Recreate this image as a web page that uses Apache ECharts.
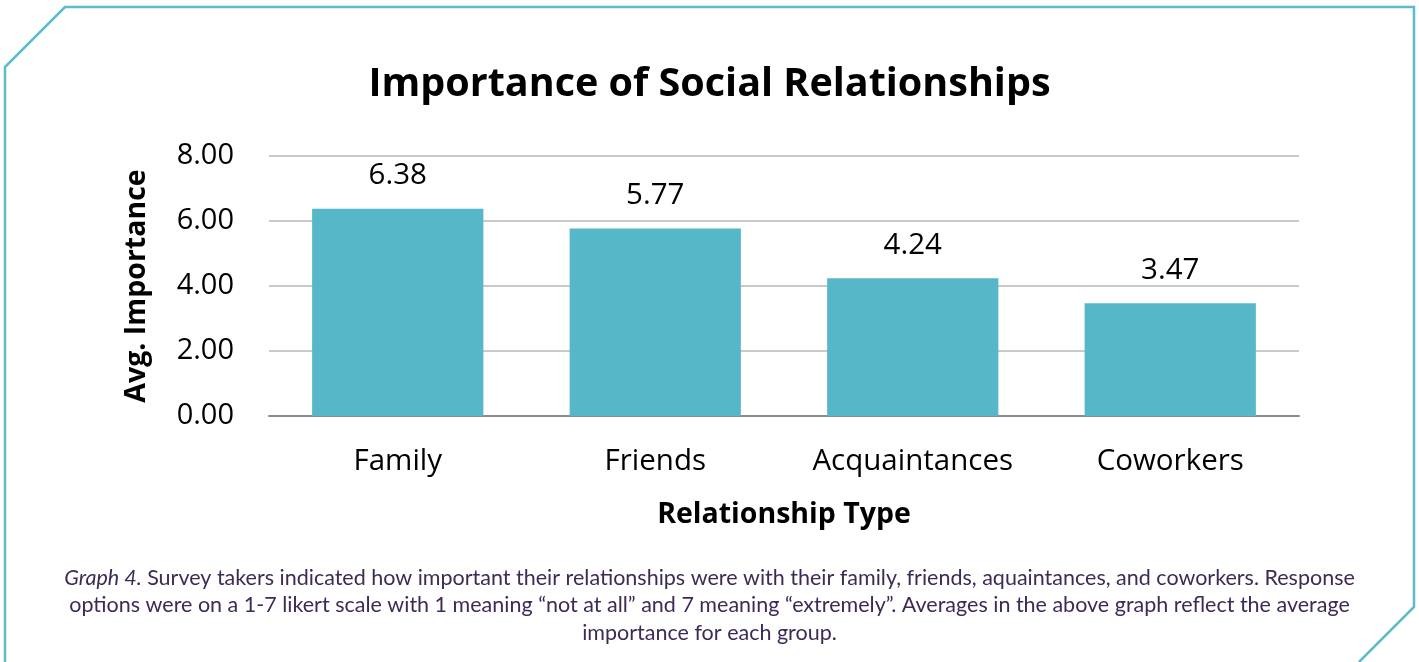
<!DOCTYPE html>
<html>
<head>
<meta charset="utf-8">
<script src="https://cdn.jsdelivr.net/npm/echarts@6/dist/echarts.min.js"></script>
<style>
  html, body { margin: 0; padding: 0; background: #ffffff; }
  #chart { width: 1419px; height: 662px; }
</style>
</head>
<body>
<div id="chart"></div>
<script>
// Relationship categories and their average importance ratings (1-7 scale)
const categories = ['Family', 'Friends', 'Acquaintances', 'Coworkers'];
const avgImportance = [6.38, 5.77, 4.24, 3.47];
const yTicks = [0, 2, 4, 6, 8];

const titleText = 'Importance of Social Relationships';
const yAxisTitle = 'Avg. Importance';
const xAxisTitle = 'Relationship Type';
const captionLines = [
  ['Graph 4.', ' Survey takers indicated how important their relationships were with their family, friends, aquaintances, and coworkers. Response'],
  ['', 'options were on a 1-7 likert scale with 1 meaning \u201cnot at all\u201d and 7 meaning \u201cextremely\u201d. Averages in the above graph reflect the average'],
  ['', 'importance for each group.']
];

const chart = echarts.init(document.getElementById('chart'), null, { renderer: 'canvas' });

const frameColor = '#5bbccc';
const captionColor = '#3e2a55';

const captionGraphics = captionLines.map(function (parts, i) {
  const txt = (parts[0] ? '{i|' + parts[0] + '}' : '') + '{n|' + parts[1] + '}';
  return {
    type: 'text',
    left: 'center',
    top: 567 + i * 27.5,
    style: {
      text: txt,
      rich: {
        i: { fontFamily: 'Lato', fontStyle: 'italic', fontSize: 21.5, fill: captionColor },
        n: { fontFamily: 'Lato', fontSize: 21.5, fill: captionColor }
      }
    }
  };
});

const option = {
  backgroundColor: '#ffffff',
  animation: false,
  title: {
    text: titleText,
    left: 'center',
    top: 60,
    textStyle: { fontFamily: 'Open Sans', fontWeight: 'bold', fontSize: 39.5, color: '#000000' }
  },
  grid: { left: 269, right: 120, top: 156, bottom: 246 },
  xAxis: {
    type: 'category',
    data: categories,
    name: xAxisTitle,
    nameLocation: 'middle',
    nameGap: 84,
    nameTextStyle: { fontFamily: 'Open Sans', fontWeight: 'bold', fontSize: 28.5, color: '#000000' },
    axisLine: { show: true, lineStyle: { color: '#8c8c8c', width: 2 } },
    axisTick: { show: false },
    axisLabel: { interval: 0, fontFamily: 'Open Sans', fontSize: 29.5, color: '#000000', margin: 31 }
  },
  yAxis: {
    type: 'value',
    min: yTicks[0],
    max: yTicks[yTicks.length - 1],
    interval: yTicks[1] - yTicks[0],
    name: yAxisTitle,
    nameLocation: 'middle',
    nameGap: 118,
    nameTextStyle: { fontFamily: 'Open Sans', fontWeight: 'bold', fontSize: 28.5, color: '#000000' },
    axisLine: { show: false },
    axisTick: { show: false },
    axisLabel: {
      fontFamily: 'Open Sans', fontSize: 29, color: '#000000', margin: 35,
      formatter: function (v) { return v.toFixed(2); }
    },
    splitLine: { show: true, lineStyle: { color: '#c9c9c9', width: 2 } }
  },
  series: [{
    type: 'bar',
    data: avgImportance,
    barWidth: '66.5%',
    itemStyle: { color: '#56b7c8' },
    label: {
      show: true,
      position: 'top',
      distance: 18,
      fontFamily: 'Open Sans',
      fontSize: 29.5,
      color: '#000000',
      formatter: function (p) { return p.value.toFixed(2); }
    }
  }],
  graphic: [
    {
      type: 'polyline',
      shape: { points: [[5, 662], [5, 67], [65, 7], [1414, 7], [1414, 607], [1359, 662]] },
      style: { stroke: frameColor, lineWidth: 2.5, fill: null }
    }
  ].concat(captionGraphics)
};

chart.setOption(option);
</script>
</body>
</html>
